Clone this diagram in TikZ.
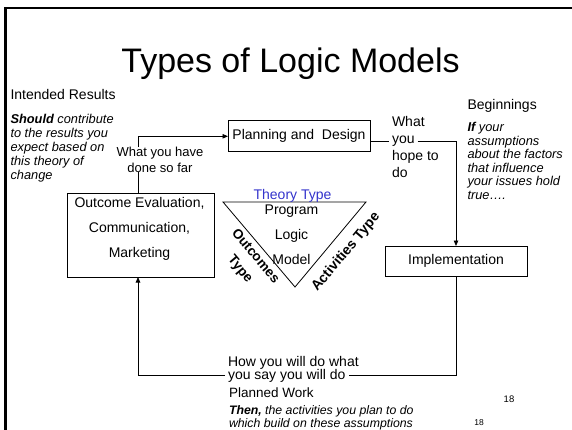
\documentclass[tikz,border=0pt]{standalone}
\usepackage{fontspec}
\setmainfont{Liberation Sans}
\usetikzlibrary{arrows.meta}
\definecolor{theoryblue}{RGB}{51,51,204}
\begin{document}
\begin{tikzpicture}[x=1pt,y=-1pt,
  every node/.style={inner sep=0pt, outer sep=0pt},
  nfont/.style={font=\fontsize{14}{16}\selectfont},
  sfont/.style={font=\fontsize{13}{15.5}\selectfont},
  ifont/.style={font=\fontsize{12.8}{13.8}\selectfont\itshape},
  boxed/.style={draw, line width=0.8pt, fill=white},
  conn/.style={line width=0.8pt},
  arr/.style={-{Triangle[length=5.5pt,width=4.5pt]}}
]
\useasboundingbox (0,0) rectangle (572,430);
% frame
\draw[line width=2.6pt] (5.3,430) -- (5.3,8) -- (572,8);
% title
\node[font=\fontsize{34}{40}\selectfont, anchor=base] (title) at (290.5,73) {Types of Logic Models};
% left texts
\node[nfont, anchor=base west] (intended) at (10.5,100) {Intended Results};
\node[ifont, anchor=north west, align=left] (should) at (10.5,114.6)
  {\textbf{Should} contribute\\to the results you\\expect based on\\this theory of\\change};
% right texts
\node[nfont, anchor=base west] (begin) at (467.5,110) {Beginnings};
\node[anchor=north west, align=left, font=\fontsize{12.8}{13.6}\selectfont\itshape] (ifyour) at (467.5,122.3)
  {\textbf{If} your\\assumptions\\about the factors\\that influence\\your issues hold\\true….};
% boxes
\node[boxed, minimum width=142pt, minimum height=31pt, nfont] (planning) at (299,136.3) {Planning and~~Design};
\node[boxed, minimum width=147pt, minimum height=84pt] (outcome) at (140.5,235) {};
\node[align=center, anchor=north, font=\fontsize{14}{25.4}\selectfont] (outtext) at (139.5,197)
  {Outcome Evaluation,\\Communication,\\Marketing};
\node[boxed, minimum width=142pt, minimum height=30pt, nfont] (impl) at (456,261) {Implementation};
% triangle
\coordinate (tl) at (223,202);
\coordinate (tr) at (366,202);
\coordinate (tb) at (295,287);
\draw[line width=0.8pt] (tl) -- (tr) -- (tb) -- cycle;
\node[nfont, text=theoryblue, anchor=base] (theory) at (292.5,200) {Theory Type};
\node[align=center, anchor=north, font=\fontsize{14}{25}\selectfont] (plm) at (291.5,205) {Program\\Logic\\Model};
\node[font=\fontsize{13.5}{20}\selectfont\bfseries, align=center, rotate=-50] (outtype) at (247.5,263) {Outcomes\\Type};
\node[font=\fontsize{14}{16}\selectfont\bfseries, rotate=50] (acttype) at (346,252) {Activities Type};
% connector outcome -> planning with label
\draw[conn, arr] ([xshift=-2.5pt]outcome.north) |- (planning.west);
\node[sfont, align=center, anchor=north, fill=white] (have) at (160,147.3) {What you have\\done so far};
% planning -> implementation
\node[nfont, anchor=base west] (hwhat) at (392,127) {What};
\node[nfont, anchor=base west, inner xsep=3pt] (hyou) at (389,144) {you};
\node[nfont, anchor=base west] (hhope) at (392,161) {hope to};
\node[nfont, anchor=base west] (hdo) at (392,178) {do};
\draw[conn] (planning.east |- hyou.west) -- (hyou.west);
\draw[conn, arr] (hyou.east) -| (impl.north);
% implementation -> outcome (bottom)
\node[nfont, anchor=base west] (bhow) at (228,366) {How you will do what};
\node[nfont, anchor=base west, inner xsep=3pt] (bsay) at (225,379.3) {you say you will do};
\draw[conn] (impl.south) |- (bsay.east);
\draw[conn, arr] (bsay.west) -| ([xshift=-2.5pt]outcome.south);
% bottom texts
\node[font=\fontsize{13.5}{16}\selectfont, anchor=base west] (planned) at (229,397) {Planned Work};
\node[anchor=north west, align=left, font=\fontsize{12.3}{13}\selectfont\itshape] (then) at (229,405.2)
  {\textbf{Then,} the activities you plan to do\\which build on these assumptions};
\node[font=\fontsize{9.5}{11}\selectfont, anchor=base] (num1) at (509,402) {18};
\node[font=\fontsize{8.5}{10}\selectfont, anchor=base] (num2) at (479,425) {18};
\end{tikzpicture}
\end{document}
